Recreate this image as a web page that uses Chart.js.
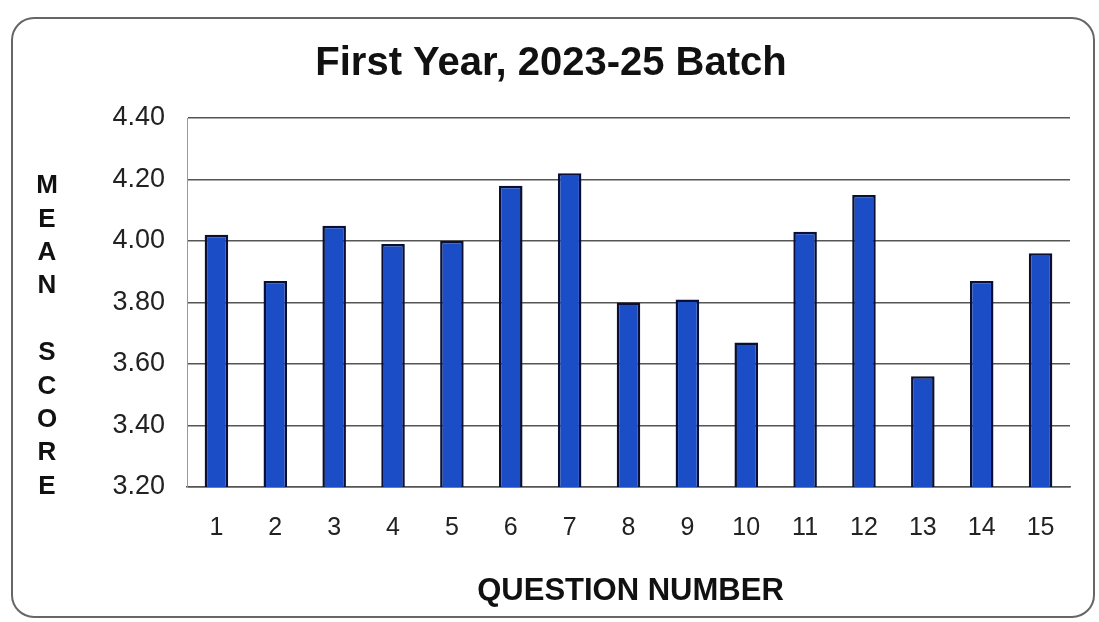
<!DOCTYPE html>
<html>
<head>
<meta charset="utf-8">
<style>
  html, body { margin: 0; padding: 0; background: #fff; }
  #wrap { width: 1099px; height: 622px; position: relative; }
</style>
</head>
<body>
<div id="wrap">
  <canvas id="myChart"></canvas>
</div>
<script src="https://cdn.jsdelivr.net/npm/chart.js"></script>
<script>
  // data
  const questions = ["1", "2", "3", "4", "5", "6", "7", "8", "9", "10", "11", "12", "13", "14", "15"];
  const meanScores = [4.02, 3.87, 4.05, 3.99, 4.00, 4.18, 4.22, 3.80, 3.81, 3.67, 4.03, 4.15, 3.56, 3.87, 3.96];
  const yTicks = [3.2, 3.4, 3.6, 3.8, 4.0, 4.2, 4.4];

  const chartTitle = "First Year, 2023-25 Batch";
  const xTitle = "QUESTION NUMBER";
  const yTitle = "MEAN SCORE";

  const font = "'Liberation Sans', Arial, sans-serif";

  // frame, title and the stacked y-axis title
  const decor = {
    id: "decor",
    beforeDraw: (chart) => {
      const { ctx } = chart;
      ctx.save();
      ctx.fillStyle = "#ffffff";
      ctx.fillRect(0, 0, chart.width, chart.height);
      ctx.strokeStyle = "#666";
      ctx.lineWidth = 2;
      ctx.beginPath();
      ctx.roundRect(12, 18, 1082, 599, 22);
      ctx.stroke();
      ctx.restore();
    },
    afterDraw: (chart) => {
      const { ctx, chartArea } = chart;
      ctx.save();
      ctx.fillStyle = "#111";
      ctx.textAlign = "center";
      ctx.textBaseline = "middle";
      ctx.font = "bold 40px " + font;
      ctx.fillText(chartTitle, 551, 64);

      ctx.font = "bold 31px " + font;
      ctx.fillText(xTitle, (chartArea.left + chartArea.right) / 2 + 2, 591);

      ctx.font = "bold 26px " + font;
      const letters = yTitle.split("");
      letters.forEach((ch, i) => {
        if (ch !== " ") ctx.fillText(ch, 47, 186 + i * 33.4);
      });
      ctx.restore();
    },
  };

  new Chart(document.getElementById("myChart"), {
    type: "bar",
    data: {
      labels: questions,
      datasets: [
        {
          data: meanScores,
          backgroundColor: "#1b4ec6",
          borderColor: "#0a1035",
          borderWidth: 2.5,
          borderSkipped: false,
          barPercentage: 0.4,
          categoryPercentage: 1,
        },
      ],
    },
    options: {
      responsive: true,
      maintainAspectRatio: false,
      animation: false,
      layout: { padding: { left: 0, right: 29, top: 118, bottom: 0 } },
      plugins: {
        legend: { display: false },
        tooltip: { enabled: false },
      },
      scales: {
        x: {
          grid: { display: false, drawTicks: false },
          border: { color: "#555", width: 1.5 },
          ticks: {
            color: "#222",
            padding: 26,
            font: { family: font, size: 25 },
          },
          afterFit: (scale) => {
            scale.height = 135;
          },
        },
        y: {
          min: 3.2,
          max: 4.4,
          afterBuildTicks: (scale) => {
            scale.ticks = yTicks.map((v) => ({ value: v }));
          },
          grid: { color: "#555", lineWidth: 1.5, drawTicks: false },
          border: { color: "#999", width: 1 },
          ticks: {
            color: "#222",
            padding: 22,
            font: { family: font, size: 27 },
            callback: (v) => Number(v).toFixed(2),
          },
          afterFit: (scale) => {
            scale.width = 187;
          },
        },
      },
    },
    plugins: [decor],
  });
</script>
</body>
</html>
